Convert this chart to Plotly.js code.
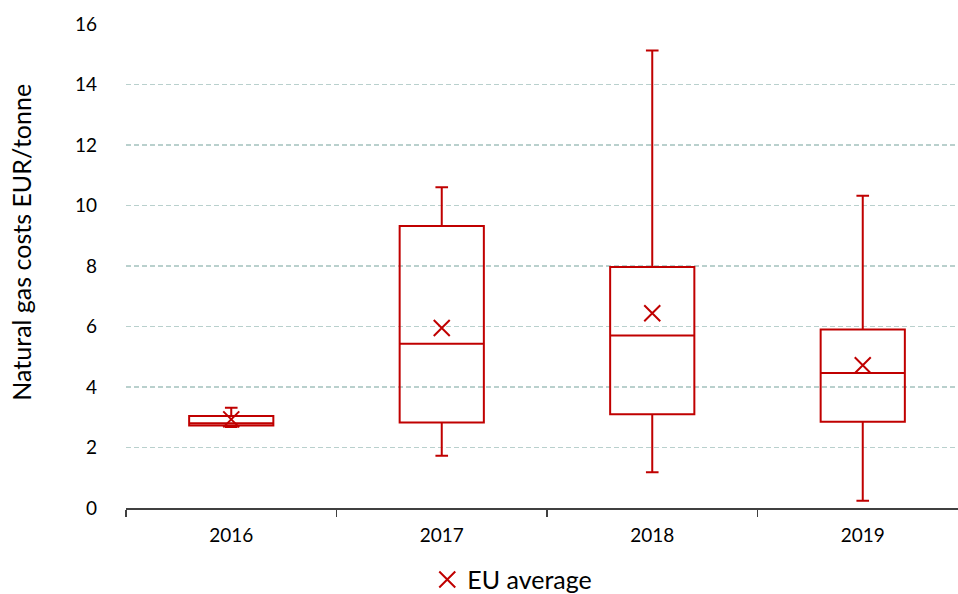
<!DOCTYPE html>
<html>
<head>
<meta charset="utf-8">
<script src="https://cdn.plot.ly/plotly-3.0.1.min.js"></script>
<style>html,body{margin:0;padding:0;background:#fff;}#chart{width:958px;height:594px;}</style>
</head>
<body>
<div id="chart"></div>
<script>
// Data
const years = ["2016", "2017", "2018", "2019"];
const lowerWhisker = [2.68, 1.73, 1.18, 0.24];
const q1 = [2.73, 2.83, 3.10, 2.85];
const median = [2.80, 5.43, 5.70, 4.46];
const q3 = [3.04, 9.32, 7.97, 5.90];
const upperWhisker = [3.31, 10.60, 15.12, 10.32];
const euAverage = [2.93, 5.95, 6.44, 4.72];

const red = "#c00000";
const font = "Lato, 'Open Sans', sans-serif";

const boxTrace = {
  type: "box",
  x: years,
  q1: q1,
  median: median,
  q3: q3,
  lowerfence: lowerWhisker,
  upperfence: upperWhisker,
  line: {color: red, width: 2},
  fillcolor: "rgba(255,255,255,0)",
  whiskerwidth: 0.15,
  boxpoints: false,
  showlegend: false,
  hoverinfo: "skip"
};

const meanTrace = {
  type: "scatter",
  mode: "markers",
  x: years,
  y: euAverage,
  name: "EU average",
  marker: {symbol: "x-thin-open", size: 16, color: red, line: {color: red, width: 2}}
};

const layout = {
  width: 958,
  height: 594,
  margin: {l: 126, r: 0, t: 24, b: 86},
  paper_bgcolor: "#fff",
  plot_bgcolor: "#fff",
  boxgap: 0.6,
  boxgroupgap: 0,
  showlegend: true,
  legend: {
    orientation: "h",
    xref: "container", yref: "container",
    x: 0.446, xanchor: "left",
    y: 0.024, yanchor: "middle",
    font: {family: font, size: 25, color: "#000"},
    itemwidth: 30
  },
  xaxis: {
    type: "category",
    range: [-0.5, 3.4525],
    showline: true,
    linecolor: "#404040",
    linewidth: 1.5,
    ticks: "outside",
    tickson: "boundaries",
    ticklen: 7,
    tickcolor: "#404040",
    tickwidth: 1.5,
    showgrid: false,
    tickfont: {family: font, size: 19, color: "#000"},
    ticklabelstandoff: 10
  },
  yaxis: {
    range: [0, 16],
    dtick: 2,
    tick0: 0,
    showline: false,
    zeroline: false,
    showgrid: true,
    gridcolor: "#b9d0cd",
    gridwidth: 1.3,
    griddash: "5px,3px",
    ticks: "",
    tickfont: {family: font, size: 19, color: "#000"},
    ticklabelstandoff: 28
  },
  annotations: [{
    text: "Natural gas costs EUR/tonne",
    textangle: -90,
    xref: "paper", yref: "paper",
    x: -0.126, xanchor: "center",
    y: 0.5486, yanchor: "middle",
    showarrow: false,
    font: {family: font, size: 25, color: "#000"}
  }]
};

Plotly.newPlot("chart", [boxTrace, meanTrace], layout, {displayModeBar: false, staticPlot: true});
</script>
</body>
</html>
